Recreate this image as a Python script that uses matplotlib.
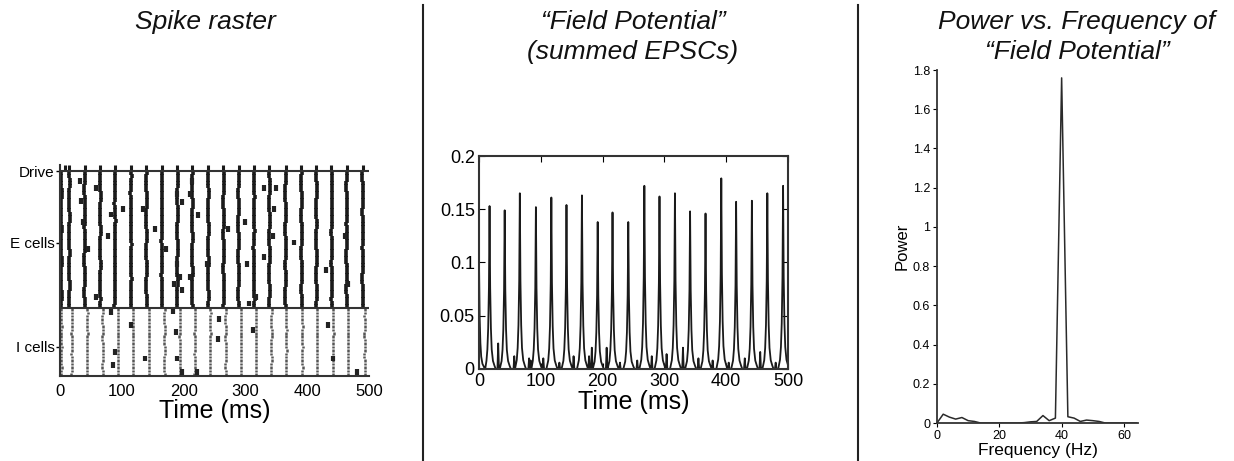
import matplotlib
matplotlib.use('agg')
import matplotlib.pyplot as plt
from matplotlib.ticker import FormatStrFormatter
import numpy as np

plt.rcParams['font.family'] = ['Liberation Sans', 'DejaVu Sans']

# ---- spike raster ----
e_volleys = [2, 15, 40, 65, 89, 115, 140, 165, 190, 214, 240, 265, 289, 314, 339, 365, 391, 415, 440, 464, 490]
i_volleys = [2, 19, 44, 69, 94, 118, 144, 169, 194, 218, 243, 268, 293, 317, 342, 366, 392, 416, 442, 466, 493]
drive_times = [8, 15, 40, 65, 89, 115, 140, 165, 189, 214, 240, 264, 289, 314, 339, 365, 390, 415, 439, 464, 490]
e_wobble = [0.0, 0.3, 0.6, 0.8, 0.6, 0.2, -0.2, -0.5, -0.7, -0.4, 0.0, 0.4, 0.7, 0.9, 0.7, 0.3, -0.1, -0.5, -0.8, -0.7,
            -0.3, 0.1, 0.5, 0.7, 0.4, 0.0, -0.4, -0.7, -0.9, -0.6, -0.2, 0.3, 0.6, 0.8, 0.6, 0.2, -0.2, -0.5, -0.3, 0.0]
i_wobble = [0.0, 0.4, 0.7, 0.4, -0.1, -0.5, -0.3, 0.2, 0.6, 0.3, -0.2, -0.6, -0.3, 0.1, 0.5, 0.3, -0.1, -0.5, -0.2, 0.1]
extra_t = [32, 58, 34, 83, 102, 135, 37, 77, 154, 46, 171, 59, 189, 198, 214, 210, 224, 189, 194, 184, 197, 210,
           272, 238, 299, 302, 318, 306, 330, 350, 347, 345, 330, 378, 431, 461, 466,
           83, 115, 183, 188, 258, 256, 89, 86, 137, 190, 312, 434, 442, 481, 221, 197]
extra_y = [57.1, 55.1, 51.2, 47.3, 49.0, 49.0, 45.1, 41.0, 43.0, 37.1, 37.1, 23.1, 53.2, 51.0, 57.1, 53.2, 47.1, 32.9,
           29.0, 27.0, 25.1, 29.0, 43.0, 32.9, 45.1, 32.9, 23.1, 21.2, 55.1, 55.1, 49.0, 41.0, 34.9, 39.1, 31.0, 41.0, 27.0,
           18.7, 15.0, 18.9, 12.9, 16.8, 10.9, 7.0, 3.1, 5.1, 5.1, 13.4, 15.0, 5.1, 1.2, 1.2, 1.2]

# ---- field potential ----
fp_peak_t = [0, 17, 41.5, 66, 92, 117, 141.5, 166.5, 192, 216, 241.5, 267.5, 292, 317, 341.5, 366.5, 392, 416, 441.5, 466.5, 492]
fp_peak_h = [0.097, 0.153, 0.149, 0.165, 0.152, 0.161, 0.154, 0.163, 0.138, 0.147, 0.138, 0.172, 0.162, 0.165, 0.148,
             0.146, 0.179, 0.157, 0.158, 0.165, 0.172]
shape_dt = [-8, -5, -3.5, -2.2, -1, 0, 1, 2.2, 3.5, 5.5, 8, 10]
shape_frac = [0, 0.05, 0.12, 0.25, 0.5, 1, 0.5, 0.25, 0.12, 0.05, 0.02, 0]
bump_t = [31, 57, 81, 83.5, 104, 130, 153, 178, 182.5, 206.5, 228, 256, 279.5, 303.5, 330, 355, 378, 404, 430, 455, 480]
bump_h = [0.024, 0.012, 0.01, 0.008, 0.01, 0.006, 0.012, 0.012, 0.02, 0.02, 0.006, 0.008, 0.012, 0.014, 0.02, 0.01,
          0.008, 0.006, 0.01, 0.016, 0.006]

# ---- power spectrum ----
freq = [0, 2, 4, 6, 8, 10, 12, 14, 16, 18, 20, 22, 24, 26, 28, 30, 32, 34, 36, 38, 40, 42, 44, 46, 48, 50, 52, 54,
        56, 58, 60, 62, 64]
power = [0.0, 0.045, 0.03, 0.02, 0.028, 0.012, 0.008, 0.0, 0.0, 0.0, 0.0, 0.0, 0.0, 0.0, 0.002, 0.006, 0.008, 0.038,
         0.012, 0.025, 1.76, 0.032, 0.025, 0.008, 0.015, 0.012, 0.008, 0.0, 0.0, 0.0, 0.0, 0.0, 0.0]

fig = plt.figure(figsize=(12.34, 4.61), dpi=100)
ink = '#1a1a1a'

# panel 1
ax1 = fig.add_axes([0.0486, 0.1844, 0.2504, 0.4594])
n_e = len(e_wobble)
n_i = len(i_wobble)
e_rows = []
for c in range(n_e):
    e_rows.append([t + e_wobble[(c + 7 * k) % n_e] for k, t in enumerate(e_volleys)])
i_rows = []
for c in range(n_i):
    i_rows.append([t + i_wobble[(c + 5 * k) % n_i] for k, t in enumerate(i_volleys)])
ax1.eventplot(e_rows, lineoffsets=np.arange(n_e) + 20.5, linelengths=1.15, colors=ink, linewidths=2.6)
ax1.eventplot(i_rows, lineoffsets=np.arange(n_i) + 0.5, linelengths=0.75, colors='#555555', linewidths=1.8)
ax1.eventplot([[t] for t in extra_t], lineoffsets=extra_y, linelengths=1.7, colors='#222222', linewidths=3.0)
ax1.vlines(drive_times, 60, 61.8, colors=ink, linewidth=2.2)
ax1.axhline(60, color='#333333', lw=1.5)
ax1.axhline(20, color='#333333', lw=1.5)
ax1.set_xlim(0, 500)
ax1.set_ylim(0, 62)
for s in ['top', 'right']:
    ax1.spines[s].set_visible(False)
for s in ['left', 'bottom']:
    ax1.spines[s].set_linewidth(1.5)
    ax1.spines[s].set_color('#333333')
ax1.spines['left'].set_bounds(0, 61.8)
ax1.set_yticks([60, 39, 8.5])
ax1.set_yticklabels(['Drive', 'E cells', 'I cells'], fontsize=11)
ax1.tick_params(axis='y', length=3, width=1, pad=1)
ax1.set_xticks([0, 100, 200, 300, 400, 500])
ax1.tick_params(axis='x', length=0, pad=6, labelsize=12)
ax1.set_xlabel('Time (ms)', fontsize=18, labelpad=0)

# panel 2
pts = []
for tp, h in zip(fp_peak_t, fp_peak_h):
    for dt, f in zip(shape_dt, shape_frac):
        pts.append((tp + dt, h * f))
for tb, hb in zip(bump_t, bump_h):
    pts += [(tb - 1.2, 0.0), (tb, hb), (tb + 1.2, 0.0)]
pts.sort()
ax2 = fig.add_axes([0.3882, 0.1996, 0.2504, 0.462])
ax2.plot([p[0] for p in pts], [p[1] for p in pts], color=ink, lw=1.3)
ax2.set_xlim(0, 500)
ax2.set_ylim(0, 0.2)
ax2.set_xticks([0, 100, 200, 300, 400, 500])
ax2.set_yticks([0, 0.05, 0.1, 0.15, 0.2])
ax2.yaxis.set_major_formatter(FormatStrFormatter('%g'))
ax2.tick_params(direction='in', top=True, right=True, length=4, labelsize=13, pad=3)
for s in ax2.spines.values():
    s.set_linewidth(1.5)
    s.set_color('#333333')
ax2.set_xlabel('Time (ms)', fontsize=18, labelpad=0)

# panel 3
ax3 = fig.add_axes([0.7593, 0.0824, 0.1629, 0.7657])
ax3.plot(freq, power, color='#2a2a2a', lw=1.1)
ax3.set_xlim(0, 64.5)
ax3.set_ylim(0, 1.8)
ax3.set_xticks([0, 20, 40, 60])
ax3.set_yticks([0, 0.2, 0.4, 0.6, 0.8, 1.0, 1.2, 1.4, 1.6, 1.8])
ax3.yaxis.set_major_formatter(FormatStrFormatter('%g'))
ax3.tick_params(length=3, labelsize=9, pad=2)
for s in ['top', 'right']:
    ax3.spines[s].set_visible(False)
for s in ['left', 'bottom']:
    ax3.spines[s].set_linewidth(1.3)
    ax3.spines[s].set_color('#333333')
ax3.set_ylabel('Power', fontsize=12, labelpad=2)
ax3.set_xlabel('Frequency (Hz)', fontsize=12.5, labelpad=1)

# titles
tkw = dict(ha='center', va='center', fontsize=19, style='italic', color='#111111')
fig.text(205 / 1234, 1 - 22 / 461, 'Spike raster', **tkw)
fig.text(633 / 1234, 1 - 22 / 461, '\u201cField Potential\u201d', **tkw)
fig.text(633 / 1234, 1 - 52 / 461, '(summed EPSCs)', **tkw)
fig.text(1077 / 1234, 1 - 22 / 461, 'Power vs. Frequency of', **tkw)
fig.text(1077 / 1234, 1 - 52 / 461, '\u201cField Potential\u201d', **tkw)

# dividers
for xd in [423 / 1234, 858 / 1234]:
    fig.add_artist(plt.Line2D([xd, xd], [0, 1 - 5 / 461], transform=fig.transFigure, color='#222222', lw=1.5))

fig.savefig('out.png', dpi=100)
